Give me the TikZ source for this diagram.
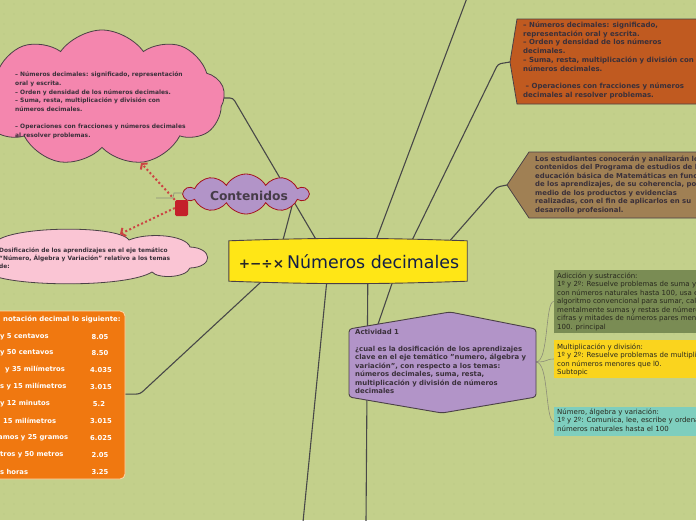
\documentclass[tikz,border=0pt]{standalone}
\usepackage{fontspec}
\setmainfont{DejaVu Sans}
\usetikzlibrary{shapes.symbols,arrows.meta}
\pgfdeclarelayer{bglayer}
\pgfsetlayers{bglayer,main}
\definecolor{bgC}{RGB}{195,208,139}
\definecolor{dotC}{RGB}{182,196,128}
\definecolor{lineC}{RGB}{72,72,72}
\definecolor{edgeC}{RGB}{75,65,70}
\definecolor{txtC}{RGB}{58,48,58}
\definecolor{centerC}{RGB}{255,230,22}
\definecolor{navyC}{RGB}{18,30,72}
\definecolor{symC}{RGB}{40,40,40}
\definecolor{pinkC}{RGB}{244,134,174}
\definecolor{lpinkC}{RGB}{250,197,212}
\definecolor{purpC}{RGB}{178,148,200}
\definecolor{dredC}{RGB}{165,20,30}
\definecolor{redC}{RGB}{196,32,42}
\definecolor{arrC}{RGB}{204,68,68}
\definecolor{orangeC}{RGB}{192,90,32}
\definecolor{brownC}{RGB}{160,128,84}
\definecolor{tableC}{RGB}{240,120,16}
\definecolor{tableE}{RGB}{255,214,170}
\definecolor{greenC}{RGB}{122,140,84}
\definecolor{yellowC}{RGB}{250,212,30}
\definecolor{tealC}{RGB}{126,206,190}
\definecolor{thinC}{RGB}{140,140,120}
\definecolor{boxtxtC}{RGB}{40,40,30}
\definecolor{contC}{RGB}{70,60,72}
\begin{document}
\begin{tikzpicture}[x=1pt,y=-1pt,
 conn/.style={draw=lineC,line width=1.1pt,rounded corners=3pt},
 thinconn/.style={draw=thinC,line width=0.6pt},
 txt/.style={anchor=north west,inner sep=0pt,align=left,text=txtC},
 boxtxt/.style={anchor=north west,inner sep=0pt,align=left,text=boxtxtC,font=\fontsize{7}{8.5}\selectfont},
 cloudbox/.style={cloud,cloud ignores aspect,draw=edgeC,line width=0.8pt},
 redarrow/.style={draw=arrC,line width=2pt,dash pattern=on 2pt off 2.4pt,-{Straight Barb[length=3.5pt,width=9pt]}},
 boxr/.style={rectangle,inner sep=0pt},
 rowlab/.style={anchor=west,inner sep=0pt,text=white,font=\fontsize{6.8}{7}\selectfont\bfseries},
 rownum/.style={inner sep=0pt,text=white,font=\fontsize{6.8}{7}\selectfont\bfseries},
]
\useasboundingbox (0,0) rectangle (696,520);

% ---------- clouds ----------
\node[cloudbox,cloud puffs=9,cloud puff arc=110,minimum width=245pt,minimum height=136pt,fill=pinkC] (pinktop) at (102,98) {};
\node[txt,font=\fontsize{5.95}{8.6}\selectfont\bfseries] (pinktoptext) at (15,72) {– Números decimales: significado, representación\\oral y escrita.\\– Orden y densidad de los números decimales.\\– Suma, resta, multiplicación y división con\\números decimales.\\[8.6pt]– Operaciones con fracciones y números decimales\\al resolver problemas.};

\path[fill=lpinkC,draw=edgeC,line width=0.8pt] (-6,244)
 .. controls (2,226) and (118,224) .. (129,240)
 .. controls (148,232) and (186,235) .. (190,247)
 .. controls (213,248) and (214,267) .. (190,268)
 .. controls (186,278) and (158,279) .. (152,272)
 .. controls (128,287) and (25,287) .. (-6,276) -- cycle;
\coordinate (pinklow) at (80,257);
\node[txt,font=\fontsize{5.9}{8}\selectfont\bfseries] (pinklowtext) at (-1,247.5) {Dosificación de los aprendizajes en el eje temático\\“Número, Álgebra y Variación” relativo a los temas\\de:};

\node[cloud,cloud puffs=10,cloud puff arc=120,cloud ignores aspect,minimum width=124pt,minimum height=40pt,fill=purpC,draw=dredC,line width=0.8pt] (cont) at (246,194) {};
\node[inner sep=0pt,text=contC,font=\fontsize{12.3}{12.3}\selectfont\bfseries] (conttext) at (249,196) {Contenidos};
\coordinate (contB) at (292,206);

\node[fill=redC,rounded corners=1.5pt,minimum width=13pt,minimum height=16pt,inner sep=0pt] (redsq) at (181.5,208) {};
\coordinate (tipA) at (141,163);
\coordinate (tipB) at (120,234);
\coordinate (brk1) at (156,198);
\coordinate (brk2) at (184,193);
\draw[thinC,line width=0.6pt] (brk1) -- (173,198) -- (174,193) -- (brk2);
\draw[redarrow] (redsq.north west) -- (tipA);
\draw[redarrow] (redsq.west) -- (tipB);

% ---------- right orange & brown ----------
\path[fill=orangeC,draw=edgeC,line width=0.8pt] (510,62) -- (517,19) -- (705,19) -- (705,104) -- (517,104) -- cycle;
\coordinate (orL) at (510,62);
\node[txt,font=\fontsize{7}{8.8}\selectfont\bfseries] (ortext) at (523,21.5) {– Números decimales: significado,\\representación oral y escrita.\\– Orden y densidad de los números\\decimales.\\– Suma, resta, multiplicación y división con\\números decimales.\\[8.8pt]\ – Operaciones con fracciones y números\\decimales al resolver problemas.};

\path[fill=brownC,draw=edgeC,line width=0.8pt] (507,185) -- (529,152) -- (705,152) -- (705,218) -- (529,218) -- cycle;
\coordinate (brL) at (507,185);
\node[txt,font=\fontsize{6.9}{8.5}\selectfont\bfseries] (brtext) at (535,155.5) {Los estudiantes conocerán y analizarán los\\contenidos del Programa de estudios de la\\educación básica de Matemáticas en función\\de los aprendizajes, de su coherencia, por\\medio de los productos y evidencias\\realizadas, con el fin de aplicarlos en su\\desarrollo profesional.};

% ---------- central ----------
\node[inner sep=0pt,minimum width=238pt,minimum height=40pt] (center) at (348,261) {};
\path[fill=centerC,draw=edgeC,line width=0.9pt] (center.north west) to[bend left=2] (center.north east) -- (center.south east) to[bend left=2] (center.south west) -- cycle;
\node[inner sep=0pt] (centertext) at (349,262) {{\color{symC}\fontsize{13.5}{13.5}\selectfont\bfseries +−÷×}\hspace{3pt}{\color{navyC}\fontsize{17.4}{17.4}\selectfont Números decimales}};

% ---------- actividad ----------
\path[fill=purpC,draw=edgeC,line width=0.9pt,rounded corners=3pt] (349,329) -- (450,312) -- (536,329) -- (536,397) -- (442,413) -- (349,397) -- cycle;
\coordinate (actTop) at (376,330);
\coordinate (actE) at (536,362);
\node[txt,font=\fontsize{6.9}{8.5}\selectfont\bfseries] (act) at (355,329) {Actividad 1\\[8.5pt]¿cual es la dosificación de los aprendizajes\\clave en el eje temático "numero, álgebra y\\variación", con respecto a los temas:\\números decimales, suma, resta,\\multiplicación y división de números\\decimales};

% ---------- table ----------
\node[draw=tableE,line width=0.8pt,fill=tableC,rounded corners=5pt,minimum width=140pt,minimum height=168pt,inner sep=0pt] (table) at (55,395) {};
\node[anchor=west,inner sep=0pt,text=white,font=\fontsize{6.9}{7}\selectfont\bfseries] (tablehead) at (3,319) {notación decimal lo siguiente:};
\node[rowlab] (r1) at (0,337) {y 5 centavos};
\node[rowlab] (r2) at (0,353) {y 50 centavos};
\node[rowlab] (r3) at (5,370) {y 35 milímetros};
\node[rowlab] (r4) at (0,387) {s y 15 milímetros};
\node[rowlab] (r5) at (0,404) {y 12 minutos};
\node[rowlab] (r6) at (3,421) {15 milímetros};
\node[rowlab] (r7) at (-2,438) {amos y 25 gramos};
\node[rowlab] (r8) at (0,455) {tros y 50 metros};
\node[rowlab] (r9) at (0,472) {s horas};
\node[rownum] (n1) at (100,337) {8.05};
\node[rownum] (n2) at (100,353) {8.50};
\node[rownum] (n3) at (101,370) {4.035};
\node[rownum] (n4) at (101,387) {3.015};
\node[rownum] (n5) at (99,404) {5.2};
\node[rownum] (n6) at (101,421) {3.015};
\node[rownum] (n7) at (101,438) {6.025};
\node[rownum] (n8) at (100,455) {2.05};
\node[rownum] (n9) at (100,472) {3.25};

% ---------- right boxes ----------
\node[boxr,fill=greenC,minimum width=160pt,minimum height=63pt] (green) at (634,301.5) {};
\node[boxtxt] (greentext) at (557,272.5) {Adicción y sustracción:\\1º y 2º: Resuelve problemas de suma y resta\\con números naturales hasta 100, usa el\\algoritmo convencional para sumar, calcula\\mentalmente sumas y restas de números de\\cifras y mitades de números pares menores\\100. principal};
\node[boxr,fill=yellowC,minimum width=160pt,minimum height=38pt] (yel) at (634,359) {};
\node[boxtxt] (yeltext) at (557,343.5) {Multiplicación y división:\\1º y 2º: Resuelve problemas de multiplicación\\con números menores que l0.\\Subtopic};
\node[boxr,fill=tealC,minimum width=160pt,minimum height=29pt] (teal) at (634,421.5) {};
\node[boxtxt] (tealtext) at (557,408.5) {Número, álgebra y variación:\\1º y 2º: Comunica, lee, escribe y ordena\\números naturales hasta el 100};

\coordinate (cTop) at (467,-2);
\coordinate (cB1) at (303,522);
\coordinate (cB2) at (366,522);

% ---------- background & connectors ----------
\begin{pgfonlayer}{bglayer}
\fill[bgC] (0,0) rectangle (696,520);
\foreach \i in {0,...,69}{\foreach \j in {0,...,51}{\fill[dotC] (\i*10+4,\j*10+4) circle (0.7pt);}}
\draw[conn] ([xshift=147pt]center.north west) -- (cTop);
\draw[conn] ([xshift=183pt]center.north west) -- (498,64) -- (orL);
\draw[conn] ([xshift=221pt]center.north west) -- (497,187) -- (brL);
\draw[conn] ([xshift=54pt]center.north west) -- (contB);
\draw[conn] ([xshift=88pt]center.north west) -- (233,98) -- (pinktop.center);
\draw[conn] ([xshift=33pt]center.south west) -- (140,394) -- (table.center);
\draw[conn] ([xshift=98pt]center.south west) -- (cB1);
\draw[conn] ([xshift=139pt]center.south west) -- (cB2);
\draw[conn] ([xshift=164pt]center.south west) -- (actTop);
\draw[thinconn] (actE) .. controls (549,362) and (545,301) .. (green.west);
\draw[thinconn] (actE) .. controls (549,362) and (545,359) .. (yel.west);
\draw[thinconn] (actE) .. controls (549,362) and (545,421) .. (teal.west);
\end{pgfonlayer}
\end{tikzpicture}
\end{document}
